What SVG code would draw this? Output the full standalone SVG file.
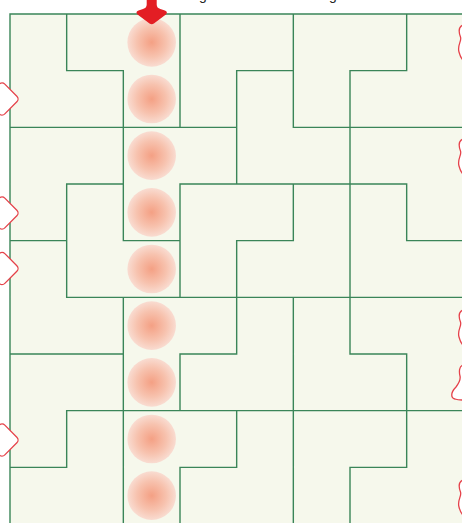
<svg xmlns="http://www.w3.org/2000/svg" width="462" height="523" viewBox="0 0 462 523">
<style>
.grid{fill:none;stroke:#3a8558;stroke-width:1.4;stroke-linecap:square}
.halo{fill:none;stroke:#9cc4a8;stroke-width:2.6;opacity:0.5}
.dot{fill:url(#glow)}
.mark{fill:#ffffff;stroke:#e5424a;stroke-width:1.3}
.lbl{font-family:"Liberation Sans",Arial,sans-serif;font-size:14px;fill:#222}
</style>
<defs>
<radialGradient id="glow" cx="0.5" cy="0.5" r="0.5">
<stop offset="0" stop-color="#f4a084"/>
<stop offset="0.6" stop-color="#f7c2ae"/>
<stop offset="1" stop-color="#f9dcd1"/>
</radialGradient>
</defs>
<rect width="462" height="523" fill="#ffffff"/>
<g id="board">
<rect x="10" y="14" width="460" height="520" fill="#f6f8ec"/>
</g>
<g id="cells">
<g id="c0"><circle class="dot" cx="151.67" cy="42.33" r="24.3"/></g>
<g id="c1"><circle class="dot" cx="151.67" cy="99" r="24.3"/></g>
<g id="c2"><circle class="dot" cx="151.67" cy="155.67" r="24.3"/></g>
<g id="c3"><circle class="dot" cx="151.67" cy="212.33" r="24.3"/></g>
<g id="c4"><circle class="dot" cx="151.67" cy="269" r="24.3"/></g>
<g id="c5"><circle class="dot" cx="151.67" cy="325.67" r="24.3"/></g>
<g id="c6"><circle class="dot" cx="151.67" cy="382.33" r="24.3"/></g>
<g id="c7"><circle class="dot" cx="151.67" cy="439" r="24.3"/></g>
<g id="c8"><circle class="dot" cx="151.67" cy="495.67" r="24.3"/></g>
</g>
<g id="connectors">
<path id="gridlines" class="grid" d="
M10,14 V524
M66.67,14 V70.67 M66.67,184 V297.33 M66.67,410.67 V467.33
M123.33,70.67 V240.67 M123.33,297.33 V524
M180,14 V127.33 M180,184 V297.33 M180,354 V410.67 M180,467.33 V524
M236.67,70.67 V184 M236.67,240.67 V354 M236.67,410.67 V467.33
M293.33,14 V127.33 M293.33,184 V240.67 M293.33,297.33 V524
M350,70.67 V354 M350,467.33 V524
M406.67,14 V70.67 M406.67,184 V240.67 M406.67,354 V467.33
M10,14 H470
M66.67,70.67 H123.33 M236.67,70.67 H293.33 M350,70.67 H406.67
M10,127.33 H236.67 M293.33,127.33 H470
M66.67,184 H123.33 M180,184 H406.67
M10,240.67 H66.67 M123.33,240.67 H180 M236.67,240.67 H293.33 M406.67,240.67 H470
M66.67,297.33 H470
M10,354 H123.33 M180,354 H236.67 M350,354 H406.67
M66.67,410.67 H470
M10,467.33 H66.67 M180,467.33 H236.67 M350,467.33 H406.67"/>
</g>
<g id="start-arrow">
<path fill="#e31e24" d="M146.7,0 V4.5 Q146.7,8 143,9 L138.5,10.5 Q135,12 137.5,14.5 L149.5,23.5 Q151.7,25 153.9,23.5 L165.9,14.5 Q168.3,12 164.9,10.5 L160.4,9 Q156.7,8 156.7,4.5 V0 Z"/>
</g>
<g id="left-markers">
<rect class="mark" x="-10.5" y="86.5" width="25" height="25" rx="4" transform="rotate(45 2 99)"/>
<rect class="mark" x="-10.5" y="200.5" width="25" height="25" rx="4" transform="rotate(45 2 213)"/>
<rect class="mark" x="-10.5" y="256" width="25" height="25" rx="4" transform="rotate(45 2 268.5)"/>
<rect class="mark" x="-10.5" y="427.5" width="25" height="25" rx="4" transform="rotate(45 2 440)"/>
</g>
<g id="right-markers">
<path class="mark" d="M463,25 C458,27 459,33 460.5,37 C462,41 457,45 459,52 C460,56 462,59 463,60 Z"/>
<path class="mark" d="M463,139 C458,141 459,147 460.5,151 C462,155 457,159 459,166 C460,170 462,173 463,174 Z"/>
<path class="mark" d="M463,310 C458,312 459,318 460.5,322 C462,326 457,330 459,337 C460,341 462,344 463,345 Z"/>
<path class="mark" d="M463,365 C459,366 459,372 460,376 C461,380 459,383 456,387 C450,393 451,398 455,399 C458,400 461,400 463,400 Z"/>
<path class="mark" d="M463,480 C458,482 459,488 460.5,492 C462,496 457,500 459,507 C460,511 462,514 463,515 Z"/>
</g>
<g id="top-labels">
<text class="lbl" x="199" y="-0.5">g</text>
<text class="lbl" x="329" y="-0.5">g</text>
</g>
</svg>
